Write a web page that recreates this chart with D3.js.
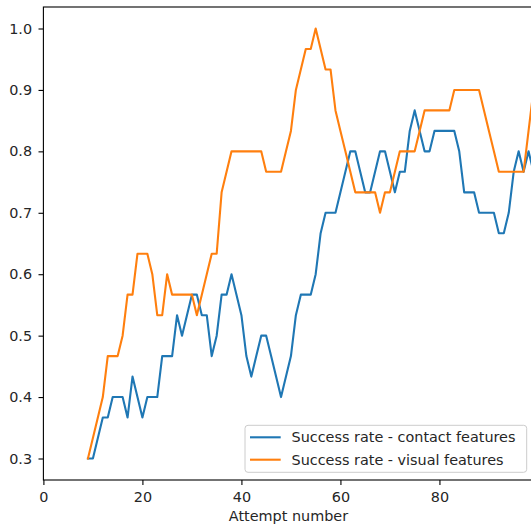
<!DOCTYPE html>
<html>
<head>
<meta charset="utf-8">
<script src="https://cdn.jsdelivr.net/npm/d3@7"></script>
<style>
  html, body { margin: 0; padding: 0; background: #fff; }
  svg { display: block; font-family: "DejaVu Sans", sans-serif; }
</style>
</head>
<body>
<div id="chart"></div>
<script>
// ---- data ----
const firstAttempt = 9;
const contactRate = [
  0.3, 0.3, 0.3333, 0.3667, 0.3667, 0.4, 0.4, 0.4, 0.3667, 0.4333,
  0.4, 0.3667, 0.4, 0.4, 0.4, 0.4667, 0.4667, 0.4667, 0.5333, 0.5,
  0.5333, 0.5667, 0.5667, 0.5333, 0.5333, 0.4667, 0.5, 0.5667, 0.5667, 0.6,
  0.5667, 0.5333, 0.4667, 0.4333, 0.4667, 0.5, 0.5, 0.4667, 0.4333, 0.4,
  0.4333, 0.4667, 0.5333, 0.5667, 0.5667, 0.5667, 0.6, 0.6667, 0.7, 0.7,
  0.7, 0.7333, 0.7667, 0.8, 0.8, 0.7667, 0.7333, 0.7333, 0.7667, 0.8,
  0.8, 0.7667, 0.7333, 0.7667, 0.7667, 0.8333, 0.8667, 0.8333, 0.8, 0.8,
  0.8333, 0.8333, 0.8333, 0.8333, 0.8333, 0.8, 0.7333, 0.7333, 0.7333, 0.7,
  0.7, 0.7, 0.7, 0.6667, 0.6667, 0.7, 0.7667, 0.8, 0.7667, 0.8,
  0.7667
];
const visualRate = [
  0.3, 0.3333, 0.3667, 0.4, 0.4667, 0.4667, 0.4667, 0.5, 0.5667, 0.5667,
  0.6333, 0.6333, 0.6333, 0.6, 0.5333, 0.5333, 0.6, 0.5667, 0.5667, 0.5667,
  0.5667, 0.5667, 0.5333, 0.5667, 0.6, 0.6333, 0.6333, 0.7333, 0.7667, 0.8,
  0.8, 0.8, 0.8, 0.8, 0.8, 0.8, 0.7667, 0.7667, 0.7667, 0.7667,
  0.8, 0.8333, 0.9, 0.9333, 0.9667, 0.9667, 1.0, 0.9667, 0.9333, 0.9333,
  0.8667, 0.8333, 0.8, 0.7667, 0.7333, 0.7333, 0.7333, 0.7333, 0.7333, 0.7,
  0.7333, 0.7333, 0.7667, 0.8, 0.8, 0.8, 0.8, 0.8333, 0.8667, 0.8667,
  0.8667, 0.8667, 0.8667, 0.8667, 0.9, 0.9, 0.9, 0.9, 0.9, 0.9,
  0.8667, 0.8333, 0.8, 0.7667, 0.7667, 0.7667, 0.7667, 0.7667, 0.7667, 0.8333,
  0.9
];
const seriesNames = ["Success rate - contact features", "Success rate - visual features"];
const seriesColors = ["#1f77b4", "#ff7f0e"];
const xTicks = [0, 20, 40, 60, 80];
const yTicks = [0.3, 0.4, 0.5, 0.6, 0.7, 0.8, 0.9, 1.0];
const xLabel = "Attempt number";

// ---- layout ----
const W = 531, H = 526;
const plot = { left: 43.4, right: 533.5, top: 7, bottom: 480 };
const fontSize = 14.4;

const svg = d3.select("#chart").append("svg").attr("width", W).attr("height", H);

const x = d3.scaleLinear().domain([0, 99]).range([plot.left, plot.right]);
const y = d3.scaleLinear().domain([0.265, 1.035]).range([plot.bottom, plot.top]);

svg.append("defs").append("clipPath").attr("id", "clip")
  .append("rect").attr("x", plot.left).attr("y", plot.top)
  .attr("width", plot.right - plot.left).attr("height", plot.bottom - plot.top);

const series = [contactRate, visualRate].map((vals, i) => ({
  name: seriesNames[i], color: seriesColors[i],
  points: vals.map((v, j) => ({ t: firstAttempt + j, v }))
}));

const line = d3.line().x(d => x(d.t)).y(d => y(d.v));

svg.append("g").attr("clip-path", "url(#clip)")
  .selectAll("path").data(series).join("path")
  .attr("d", d => line(d.points))
  .attr("fill", "none")
  .attr("stroke", d => d.color)
  .attr("stroke-width", 2.1)
  .attr("stroke-linejoin", "round")
  .attr("stroke-linecap", "square");

// axes
const xAxis = svg.append("g").attr("transform", `translate(0,${plot.bottom})`)
  .call(d3.axisBottom(x).tickValues(xTicks).tickFormat(d3.format("d")).tickSize(4.9).tickPadding(7.2).tickSizeOuter(0));
const yAxis = svg.append("g").attr("transform", `translate(${plot.left},0)`)
  .call(d3.axisLeft(y).tickValues(yTicks).tickFormat(d3.format(".1f")).tickSize(4.9).tickPadding(6.4).tickSizeOuter(0));

[xAxis, yAxis].forEach(g => {
  g.select(".domain").remove();
  g.selectAll(".tick line").attr("stroke", "#000").attr("stroke-width", 1.1);
  g.selectAll(".tick text").attr("fill", "#262626").attr("font-size", fontSize)
    .attr("font-family", "DejaVu Sans, sans-serif");
});

// spines
svg.append("rect")
  .attr("x", plot.left).attr("y", plot.top)
  .attr("width", plot.right - plot.left).attr("height", plot.bottom - plot.top)
  .attr("fill", "none").attr("stroke", "#000").attr("stroke-width", 1.1);

// x label
svg.append("text")
  .attr("x", (plot.left + plot.right) / 2).attr("y", 521)
  .attr("text-anchor", "middle").attr("font-size", fontSize).attr("fill", "#262626")
  .text(xLabel);

// legend
const lg = svg.append("g");
lg.append("rect").attr("x", 245).attr("y", 425.3).attr("width", 281.7).attr("height", 47)
  .attr("rx", 3).attr("fill", "#fff").attr("fill-opacity", 0.8)
  .attr("stroke", "#cccccc").attr("stroke-width", 1);
const rows = [437.3, 459.7];
series.forEach((s, i) => {
  lg.append("line").attr("x1", 250).attr("x2", 280.7).attr("y1", rows[i]).attr("y2", rows[i])
    .attr("stroke", s.color).attr("stroke-width", 2.1);
  lg.append("text").attr("x", 291.5).attr("y", rows[i]).attr("dy", "0.36em")
    .attr("font-size", fontSize).attr("fill", "#262626").text(s.name);
});
</script>
</body>
</html>
